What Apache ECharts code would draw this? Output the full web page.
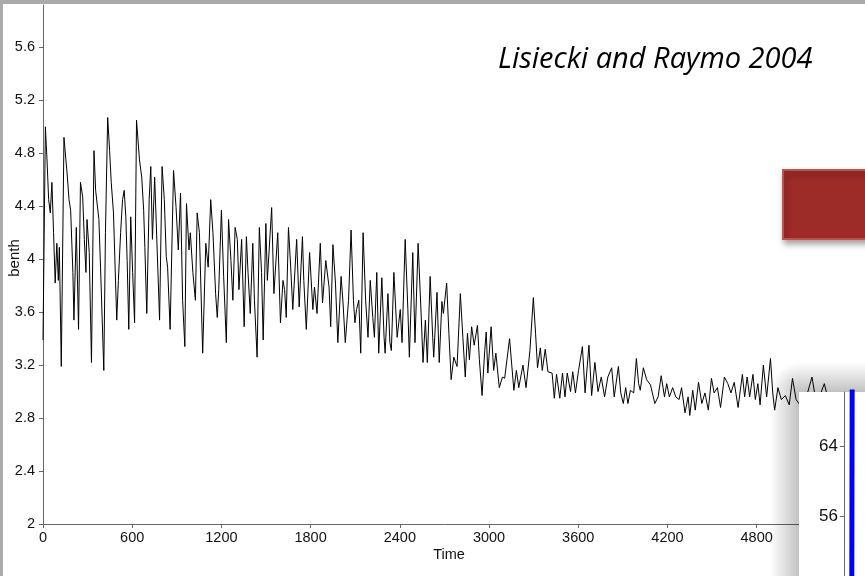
<!DOCTYPE html>
<html>
<head>
<meta charset="utf-8">
<script src="https://cdn.jsdelivr.net/npm/echarts@6/dist/echarts.min.js"></script>
<style>
html,body{margin:0;padding:0;background:#fff;}
#chart{width:865px;height:576px;}
</style>
</head>
<body>
<div id="chart"></div>
<script>
// Time (kyr) and benthic d18O values
var times = [0,16,27,38,49,60,71,82,93,103,
110,123,141,154,162,175,186,201,208,224,
239,252,267,278,289,296,311,326,343,354,
376,387,409,420,435,448,459,474,489,496,
507,522,535,546,557,566,577,590,603,616,
629,649,664,677,685,698,714,725,736,751,
768,784,801,816,829,838,855,878,895,910,
925,939,954,965,982,991,1008,1025,1037,1052,
1074,1095,1111,1128,1143,1161,1172,1182,1200,1215,
1233,1248,1264,1277,1292,1307,1318,1336,1353,1368,
1379,1394,1411,1422,1440,1455,1470,1481,1499,1509,
1538,1553,1579,1597,1614,1625,1636,1651,1666,1680,
1706,1723,1745,1754,1771,1793,1815,1826,1843,1865,
1880,1902,1924,1935,1950,1967,1983,2005,2018,2033,
2055,2072,2088,2098,2109,2124,2137,2153,2170,2186,
2201,2218,2229,2245,2258,2279,2294,2301,2320,2333,
2343,2360,2382,2403,2415,2436,2454,2464,2487,2502,
2523,2545,2556,2572,2585,2604,2621,2628,2650,2665,
2683,2693,2715,2730,2745,2763,2785,2807,2824,2840,
2855,2868,2883,2900,2922,2935,2953,2971,2981,2992,
3014,3031,3046,3069,3090,3105,3138,3167,3184,3200,
3228,3249,3275,3298,3313,3326,3345,3358,3378,3396,
3424,3439,3454,3476,3494,3511,3526,3548,3563,3581,
3602,3628,3646,3672,3690,3712,3733,3755,3777,3799,
3825,3842,3870,3886,3903,3919,3934,3951,3973,3991,
4006,4017,4038,4060,4086,4115,4137,4158,4180,4195,
4213,4235,4256,4278,4295,4318,4339,4350,4370,4387,
4409,4431,4452,4475,4496,4514,4536,4557,4583,4606,
4627,4649,4675,4704,4719,4736,4753,4775,4791,4808,
4823,4845,4867,4893,4908,4921,4943,4966,4993,5019,
5041,5065,5104,5137,5172,5203,5222,5255,5281,5314];

var benth = [3.39,5.00,4.75,4.45,4.35,4.58,4.20,3.82,4.12,3.84,
4.09,3.19,4.92,4.75,4.65,4.45,4.37,3.90,3.54,4.24,
3.47,4.58,4.47,4.15,3.90,4.30,4.05,3.22,4.82,4.52,
4.30,3.94,3.16,4.20,5.07,4.82,4.58,4.35,3.79,3.54,
3.84,4.20,4.45,4.52,4.32,3.99,3.47,4.32,3.90,3.52,
5.05,4.75,4.62,4.37,4.09,3.59,4.45,4.70,4.15,4.62,
4.07,3.54,4.70,4.45,4.02,3.94,3.47,4.67,4.39,4.07,
4.50,3.69,3.34,4.42,4.07,4.20,3.90,3.69,4.35,4.20,
3.29,4.12,3.94,4.45,4.20,3.74,3.56,3.77,4.37,3.87,
3.37,4.30,3.99,3.69,4.24,4.15,3.77,4.15,3.49,4.17,
3.90,3.59,4.12,3.69,3.26,4.24,3.90,3.39,4.27,3.84,
4.39,3.74,4.20,3.52,3.84,3.77,3.56,4.24,3.94,3.62,
4.15,3.64,4.17,3.84,3.47,4.05,3.62,3.79,3.59,4.12,
3.67,3.99,3.79,3.49,4.11,3.82,3.37,3.87,3.67,3.37,
3.69,4.22,3.69,3.52,3.62,3.69,3.29,4.20,3.69,3.41,
3.84,3.56,3.41,3.90,3.29,3.86,3.41,3.29,3.74,3.37,
3.31,3.90,3.41,3.62,3.37,4.15,3.62,3.26,4.05,3.37,
4.12,3.54,3.22,3.54,3.22,3.87,3.41,3.26,3.75,3.22,
3.68,3.59,3.82,3.44,3.09,3.26,3.19,3.74,3.41,3.11,
3.44,3.24,3.49,3.35,3.50,3.24,2.97,3.31,3.45,3.14,
3.49,3.16,3.29,3.03,3.11,3.10,3.40,3.01,3.16,3.03,
3.20,3.03,3.31,3.71,3.44,3.18,3.33,3.16,3.32,3.15,
3.14,2.95,3.13,2.95,3.14,2.96,3.14,3.00,3.15,2.99,
3.16,3.34,2.99,3.35,2.97,3.22,3.00,3.11,2.96,3.11,
3.18,2.96,3.19,2.99,2.91,3.03,2.91,3.01,2.99,3.25,
3.06,3.01,3.18,3.09,3.05,2.91,2.96,3.12,2.96,3.06,
2.96,3.03,2.96,2.94,3.03,2.84,2.96,2.82,3.01,2.86,
3.07,2.91,2.99,2.86,3.10,2.99,3.03,2.88,3.11,3.06,
2.99,3.07,2.88,3.13,2.96,3.11,2.96,3.13,2.94,3.06,
2.90,3.20,2.96,3.25,2.99,2.86,3.03,2.94,2.97,2.90,
3.10,2.94,2.88,2.97,3.11,2.90,2.96,3.06,2.94,2.97];

var yTicks = [2, 2.4, 2.8, 3.2, 3.6, 4, 4.4, 4.8, 5.2, 5.6];
var insetTicks = [56, 64];
var insetX = [3.9, 3.8, 3.7];
var insetY = [72, 60, 48];

var seriesData = times.map(function (t, i) { return [t, benth[i]]; });
var insetData = insetX.map(function (x, i) { return [x, insetY[i]]; });

var chart = echarts.init(document.getElementById('chart'), null, {renderer: 'canvas'});
var axisCol = '#666';
var plain = function (v) { return String(v); };
var labelFont = {color: '#111', fontFamily: 'Liberation Sans, Arial', fontSize: 14.5};

chart.setOption({
  animation: false,
  backgroundColor: '#ffffff',
  grid: [
    {left: 43, top: 5, right: -3, bottom: 52},
    {left: 844, top: 392, right: 0, bottom: 0}
  ],
  xAxis: [
    {
      type: 'value', gridIndex: 0, min: 0, max: 5400, interval: 600, z: 1,
      axisLine: {show: true, lineStyle: {color: axisCol, width: 1}},
      axisTick: {show: true, length: 4, lineStyle: {color: axisCol}},
      axisLabel: Object.assign({margin: 6, formatter: plain}, labelFont),
      splitLine: {show: false}
    },
    {
      type: 'value', gridIndex: 1, min: 0, max: 10, show: false
    }
  ],
  yAxis: [
    {
      type: 'value', gridIndex: 0, min: 2, max: 5.92, z: 1,
      axisLine: {show: true, lineStyle: {color: axisCol, width: 1}},
      axisTick: {show: true, length: 4, customValues: yTicks, lineStyle: {color: axisCol}},
      axisLabel: Object.assign({margin: 8, customValues: yTicks, formatter: plain}, labelFont),
      splitLine: {show: false}
    },
    {
      type: 'value', gridIndex: 1, min: 49.3, max: 70.1, z: 20,
      axisLine: {show: true, lineStyle: {color: axisCol, width: 1}},
      axisTick: {show: true, length: 4, customValues: insetTicks, lineStyle: {color: axisCol}},
      axisLabel: Object.assign({margin: 6, customValues: insetTicks, formatter: plain}, labelFont, {fontSize: 17}),
      splitLine: {show: false}
    }
  ],
  series: [
    {
      type: 'line', xAxisIndex: 0, yAxisIndex: 0, data: seriesData, z: 2,
      showSymbol: false, symbol: 'none',
      lineStyle: {color: '#000', width: 1}
    },
    {
      type: 'line', xAxisIndex: 1, yAxisIndex: 1, data: insetData, z: 21,
      showSymbol: false, symbol: 'none',
      lineStyle: {color: '#0000ff', width: 5}
    }
  ],
  graphic: [
    {type: 'rect', z: 10, shape: {x: 799, y: 392, width: 66, height: 184}, style: {fill: '#ffffff'}},
    {type: 'rect', z: 15, silent: true, shape: {x: 770, y: 392, width: 29, height: 184},
      style: {fill: new echarts.graphic.LinearGradient(0, 0, 1, 0, [
        {offset: 0, color: 'rgba(0,0,0,0)'}, {offset: 1, color: 'rgba(0,0,0,0.24)'}])}},
    {type: 'rect', z: 15, silent: true, shape: {x: 799, y: 362, width: 66, height: 30},
      style: {fill: new echarts.graphic.LinearGradient(0, 0, 0, 1, [
        {offset: 0, color: 'rgba(0,0,0,0)'}, {offset: 1, color: 'rgba(0,0,0,0.24)'}])}},
    {type: 'rect', z: 15, silent: true, shape: {x: 770, y: 362, width: 29, height: 30},
      style: {fill: new echarts.graphic.RadialGradient(1, 1, 1, [
        {offset: 0, color: 'rgba(0,0,0,0.24)'}, {offset: 1, color: 'rgba(0,0,0,0)'}])}},
    {type: 'rect', z: 50, shape: {x: 783, y: 170, width: 95, height: 69},
      style: {fill: '#9d2b28', stroke: '#c0504d', lineWidth: 2,
        shadowBlur: 6, shadowOffsetX: 2, shadowOffsetY: 4, shadowColor: 'rgba(0,0,0,0.35)'}},
    {type: 'text', z: 50, style: {text: 'Lisiecki and Raymo 2004', x: 498, y: 60,
      font: 'italic 29px "Open Sans"', fill: '#000', textAlign: 'left', textVerticalAlign: 'middle'}},
    {type: 'text', z: 50, x: 15, y: 258, rotation: Math.PI / 2,
      style: {text: 'benth', x: 0, y: 0, font: '15px "Liberation Sans", Arial', fill: '#111',
        textAlign: 'center', textVerticalAlign: 'middle'}},
    {type: 'text', z: 50, style: {text: 'Time', x: 449, y: 555, font: '14.5px "Liberation Sans", Arial',
      fill: '#111', textAlign: 'center', textVerticalAlign: 'middle'}},
    {type: 'rect', z: 100, shape: {x: 0, y: 0, width: 865, height: 4}, style: {fill: '#ababab'}},
    {type: 'rect', z: 100, shape: {x: 0, y: 0, width: 3, height: 576}, style: {fill: '#ababab'}}
  ]
});
</script>
</body>
</html>
